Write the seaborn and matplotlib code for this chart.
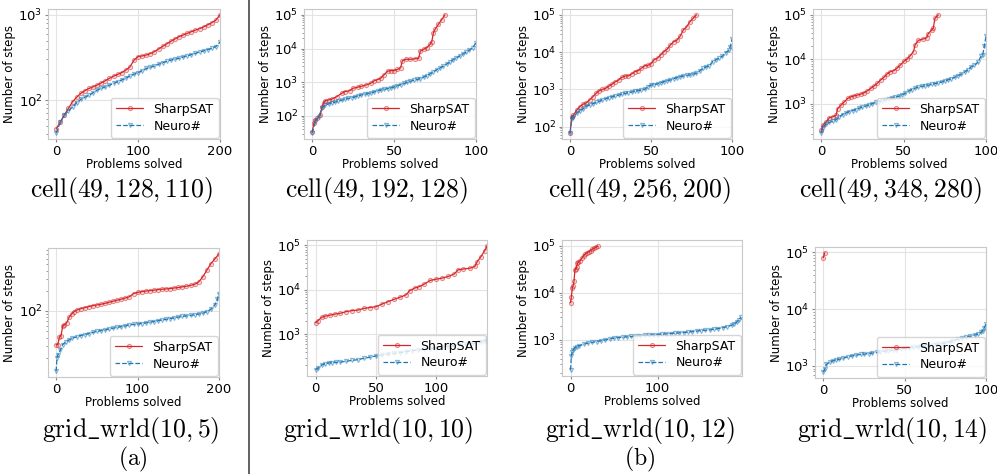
import numpy as np
import pandas as pd
import seaborn as sns
import matplotlib
matplotlib.use("Agg")
import matplotlib.pyplot as plt
from matplotlib.lines import Line2D

# ---- data: number of steps per solved problem (sorted) ----
cell128_x = list(range(0, 201, 5))
cell128_sharp = [46, 55, 67, 80, 96, 108, 120, 129, 137, 143,
                 150, 159, 169, 180, 191, 200, 210, 225, 246, 294,
                 324, 330, 338, 352, 371, 398, 427, 458, 490, 522,
                 556, 580, 608, 635, 662, 690, 724, 765, 811, 870, 1000]
cell128_neuro = [41, 55, 67, 75, 83, 93, 102, 108, 114, 122,
                 131, 137, 143, 150, 157, 164, 172, 181, 192, 201,
                 210, 222, 235, 243, 251, 263, 275, 285, 295, 302,
                 310, 320, 330, 342, 354, 366, 378, 391, 405, 425, 480]

cell192_sharp_x = [0, 1, 2, 3, 5, 6, 7, 8, 10, 12, 15, 18, 20, 23, 25, 28, 30, 33, 36, 38,
                   40, 42, 44, 46, 48, 50, 52, 54, 55, 57, 60, 63, 65, 66, 68, 70, 72, 73, 74, 75,
                   77, 79, 81]
cell192_sharp = [34, 60, 76, 85, 107, 190, 240, 285, 300, 315, 375, 470, 530, 565, 665, 720, 760, 830, 955, 1120,
                 1200, 1340, 1690, 2130, 2230, 2230, 2400, 2700, 4300, 4800, 4800, 5000, 5150, 8500, 9500, 10700,
                 13500, 16000, 29500, 37000, 52000, 72000, 100000]
cell192_neuro_x = list(range(0, 101, 2))
cell192_neuro = [31, 70, 95, 170, 213, 227, 243, 258, 275, 293,
                 313, 330, 348, 367, 392, 420, 440, 460, 480, 520,
                 565, 590, 615, 645, 680, 720, 780, 850, 920, 990,
                 1070, 1140, 1210, 1290, 1420, 1580, 1780, 2050, 2350, 2650,
                 3000, 3450, 3950, 4650, 5300, 6000, 6900, 7900, 9000, 10700, 15000]

cell256_sharp_x = [0, 1, 2, 4, 6, 8, 10, 12, 14, 16, 18, 20, 22, 24, 26, 28, 30, 32, 34, 36,
                   38, 40, 42, 44, 46, 48, 50, 52, 54, 56, 58, 60, 62, 64, 66, 68, 70, 72, 74, 76, 78]
cell256_sharp = [67, 186, 200, 275, 340, 400, 435, 520, 630, 780, 920, 1000, 1070, 1230, 1390, 1610, 1790,
                 2110, 2300, 2300, 2600, 3000, 3180, 3700, 4300, 4400, 4900, 6300, 6900, 8500, 10400, 12000,
                 15800, 19200, 21000, 27000, 40000, 48000, 66000, 81000, 100000]
cell256_neuro_x = [0, 1, 2, 4, 6, 8, 10, 12, 14, 16, 18, 20, 22, 24, 26, 28, 30, 32, 34, 36,
                   38, 40, 42, 44, 46, 48, 50, 52, 54, 56, 58, 60, 62, 64, 66, 68, 70, 72, 74, 76,
                   78, 80, 82, 84, 86, 88, 90, 92, 94, 96, 98, 99, 100]
cell256_neuro = [67, 160, 180, 230, 270, 300, 350, 380, 410, 445, 480, 520, 560, 595, 630, 665, 700, 740,
                 780, 815, 850, 885, 920, 960, 1000, 1180, 1310, 1350, 1400, 1500, 1610, 1700, 1790, 1930,
                 2070, 2180, 2300, 2380, 2450, 2570, 2700, 3100, 3700, 4000, 4300, 5600, 6200, 6900, 7700,
                 9500, 11300, 14000, 22000]

cell348_sharp_x = [0, 1, 3, 5, 7, 9, 10, 12, 14, 16, 18, 20, 22, 24, 26, 28, 30, 32, 34, 36,
                   38, 40, 42, 44, 46, 48, 50, 52, 54, 56, 57, 59, 62, 64, 65, 67, 68, 69, 71]
cell348_sharp = [248, 320, 383, 480, 500, 540, 770, 920, 1090, 1300, 1420, 1490, 1550, 1630, 1750, 1940,
                 2190, 2480, 2850, 3390, 3880, 4650, 5250, 5500, 6300, 7400, 8900, 10000, 12000, 14900,
                 21300, 26700, 28700, 30500, 38000, 45400, 50000, 83000, 100000]
cell348_neuro_x = [0, 1, 3, 5, 7, 9, 11, 13, 15, 17, 19, 21, 23, 25, 27, 29, 31, 33, 35, 37,
                   39, 41, 43, 45, 47, 49, 51, 53, 55, 57, 59, 61, 63, 65, 67, 69, 71, 73, 75, 77,
                   79, 81, 83, 85, 87, 89, 91, 93, 95, 97, 98, 99, 100]
cell348_neuro = [215, 285, 350, 375, 395, 430, 500, 565, 610, 655, 695, 730, 785, 830, 870, 930, 990,
                 1060, 1110, 1160, 1210, 1270, 1330, 1390, 1450, 1580, 1700, 1900, 2070, 2220, 2350, 2440,
                 2520, 2580, 2700, 2800, 2900, 3050, 3220, 3420, 3650, 3900, 4250, 4600, 5100, 5800, 6700,
                 7300, 8500, 11600, 12600, 20000, 33000]

grid5_sharp_x = [0, 2, 4, 6, 8, 10, 13, 16, 19, 22] + list(range(25, 201, 5))
grid5_sharp = [31.5, 31.5, 41, 43, 59, 62, 67, 81, 90, 98,
               103, 108, 112, 116, 120, 123, 126, 130, 135, 140,
               145, 150, 156, 163, 182, 189, 194, 198, 201, 204,
               208, 211, 213, 216, 220, 224, 229, 234, 241, 250,
               271, 322, 404, 506, 600, 710]
grid5_neuro_x = [0, 1, 2, 5, 8, 12, 16, 20] + list(range(25, 196, 5)) + [198, 200]
grid5_neuro = [12.7, 20, 22, 26, 31.5, 35, 37, 39.5,
               41, 43, 44.5, 46, 48, 49.5, 51, 52, 54, 55.5,
               57, 58.5, 60, 62, 63, 64, 65, 66.5, 68, 69.5,
               71.5, 73.5, 75, 77, 79, 81, 83, 84.5, 86, 87.5,
               90, 92, 98, 106, 123, 150, 182]

grid10_sharp_x = [0, 2, 5, 8, 12, 16, 20, 25, 30, 35, 40, 45, 50, 55, 60, 65, 70, 75, 78, 82,
                  86, 90, 95, 100, 105, 110, 115, 118, 122, 128, 132, 134, 137, 140, 142]
grid10_sharp = [1820, 2030, 2400, 2570, 2700, 2850, 2950, 3220, 3400, 3500, 3820, 4000, 4170, 4770,
                5400, 6100, 6800, 7700, 9600, 10900, 11800, 13400, 16200, 17300, 18300, 19900, 22800,
                28000, 29100, 30500, 33400, 43000, 55500, 75000, 95000]
grid10_neuro_x = [0, 2, 5, 8, 11, 14, 17, 20] + list(range(25, 136, 5)) + [138, 140, 142]
grid10_neuro = [160, 175, 205, 218, 228, 232, 235, 238,
                247, 260, 270, 290, 307, 327, 343, 360, 375, 390,
                410, 430, 445, 460, 480, 500, 515, 530, 550, 575,
                600, 630, 665, 690, 710, 750]

grid12_sharp_x = [0, 1, 2, 3, 4, 5, 6, 7, 8, 9, 11, 13, 15, 17, 19, 21, 23, 25, 27, 29, 31]
grid12_sharp = [6200, 8300, 12600, 14300, 17700, 30400, 32000, 36500, 43000, 45000, 49000,
                55000, 62000, 68000, 72000, 76000, 80000, 85000, 89000, 93000, 99000]
grid12_neuro_x = [0, 1, 2, 3, 5, 7] + list(range(10, 186, 5)) + [188, 191, 193, 196]
grid12_neuro = [230, 460, 560, 610, 680, 715,
                745, 810, 850, 885, 920, 960, 1000, 1045, 1090, 1115,
                1140, 1160, 1180, 1200, 1220, 1240, 1260, 1280, 1300, 1320,
                1340, 1365, 1390, 1410, 1430, 1465, 1500, 1540, 1580, 1600,
                1630, 1680, 1740, 1820, 1920, 2050,
                2190, 2400, 2660, 3030]

grid14_sharp_x = [0, 1]
grid14_sharp = [80500, 98000]
grid14_neuro_x = [0, 1, 2, 4, 6, 8, 10, 12, 15, 18, 20, 23, 25, 28, 30, 33, 35, 38, 40, 43,
                  45, 48, 50, 53, 55, 58, 60, 63, 65, 68, 70, 73, 75, 78, 80, 83, 85, 88, 90, 93,
                  95, 97, 98, 99, 100]
grid14_neuro = [780, 870, 1070, 1150, 1230, 1270, 1310, 1360, 1440, 1510, 1550, 1590, 1610, 1650,
                1680, 1730, 1770, 1820, 1850, 1890, 1920, 1990, 2030, 2090, 2120, 2170, 2200, 2240,
                2270, 2340, 2390, 2470, 2520, 2650, 2780, 2950, 3060, 3220, 3320, 3500, 3650, 3900,
                4200, 4700, 5500]

captions = [r"$\mathrm{cell}(49, 128, 110)$", r"$\mathrm{cell}(49, 192, 128)$",
            r"$\mathrm{cell}(49, 256, 200)$", r"$\mathrm{cell}(49, 348, 280)$",
            r"$\mathrm{grid\_wrld}(10, 5)$", r"$\mathrm{grid\_wrld}(10, 10)$",
            r"$\mathrm{grid\_wrld}(10, 12)$", r"$\mathrm{grid\_wrld}(10, 14)$"]

panels = [
    (cell128_x, cell128_sharp, cell128_x, cell128_neuro, 200, [0, 100, 200]),
    (cell192_sharp_x, cell192_sharp, cell192_neuro_x, cell192_neuro, 100, [0, 50, 100]),
    (cell256_sharp_x, cell256_sharp, cell256_neuro_x, cell256_neuro, 100, [0, 50, 100]),
    (cell348_sharp_x, cell348_sharp, cell348_neuro_x, cell348_neuro, 100, [0, 50, 100]),
    (grid5_sharp_x, grid5_sharp, grid5_neuro_x, grid5_neuro, 200, [0, 100, 200]),
    (grid10_sharp_x, grid10_sharp, grid10_neuro_x, grid10_neuro, 142, [0, 50, 100]),
    (grid12_sharp_x, grid12_sharp, grid12_neuro_x, grid12_neuro, 197, [0, 100]),
    (grid14_sharp_x, grid14_sharp, grid14_neuro_x, grid14_neuro, 100, [0, 50, 100]),
]

# axes boxes in pixels: left, right, top, bottom
boxes = [(48, 220, 9, 139), (304, 476, 9, 139), (562, 732, 9, 139), (813, 986, 9, 139),
         (48, 219, 248, 377), (307, 487, 240, 376), (562, 742, 240, 376), (815, 986, 247, 378)]
cap_pos = [(121, 190), (376, 190), (639, 190), (890, 190),
           (131, 430), (378, 430), (640, 430), (892, 430)]

W, H = 997, 474
sns.set_style("whitegrid", {"axes.edgecolor": "#c8c8c8", "grid.color": "#e3e3e3",
                            "text.color": "black", "axes.labelcolor": "black",
                            "xtick.color": "black", "ytick.color": "black"})
plt.rcParams["font.family"] = ["DejaVu Sans"]

red = "#d62728"
blue = "#1f77b4"

fig = plt.figure(figsize=(W / 100, H / 100), dpi=100)

for i, (sx, sy, nx, ny, xmax, xt) in enumerate(panels):
    l, r, t, b = boxes[i]
    ax = fig.add_axes([l / W, 1 - b / H, (r - l) / W, (b - t) / H])
    sns.lineplot(x=sx, y=sy, ax=ax, estimator=None, color=red, marker="o", markersize=3,
                 markerfacecolor=(0.84, 0.15, 0.16, 0.15), markeredgecolor=(0.84, 0.15, 0.16, 0.5),
                 markeredgewidth=0.8, linewidth=0.9, label="SharpSAT")
    sns.lineplot(x=nx, y=ny, ax=ax, estimator=None, color=blue, marker="v", markersize=3,
                 markerfacecolor=(0.12, 0.47, 0.71, 0.15), markeredgecolor=(0.12, 0.47, 0.71, 0.5),
                 markeredgewidth=0.8, linewidth=0.9, linestyle="--", label="Neuro#")
    ax.set_yscale("log")
    ax.set_xticks(xt)
    ax.set_xlim(right=xmax)
    ax.set_xlabel("Problems solved", fontsize=8.5, labelpad=0.5)
    ax.set_ylabel("Number of steps", fontsize=8.5, labelpad=1.5)
    ax.tick_params(axis="both", which="major", labelsize=9.5, length=2.5, width=0.8,
                   bottom=True, left=True, pad=1.5, color="#888888")
    ax.tick_params(axis="y", which="minor", length=1.5, width=0.6, left=True, color="#888888")
    ax.legend(loc="lower right", fontsize=9, borderaxespad=0.12, handlelength=2.2,
              labelspacing=0.3, borderpad=0.4, framealpha=0.8)
    cx, cy = cap_pos[i]
    fig.text(cx / W, 1 - cy / H, captions[i], ha="center", va="center",
             fontsize=18.5, math_fontfamily="cm")

fig.text(133 / W, 1 - 459 / H, r"$\mathrm{(a)}$", ha="center", va="center",
         fontsize=17, math_fontfamily="cm")
fig.text(640 / W, 1 - 459 / H, r"$\mathrm{(b)}$", ha="center", va="center",
         fontsize=17, math_fontfamily="cm")

fig.add_artist(Line2D([249 / W, 249 / W], [0, 1], transform=fig.transFigure,
                      color="#555555", linewidth=1.3))

fig.savefig("out.png", dpi=100)
